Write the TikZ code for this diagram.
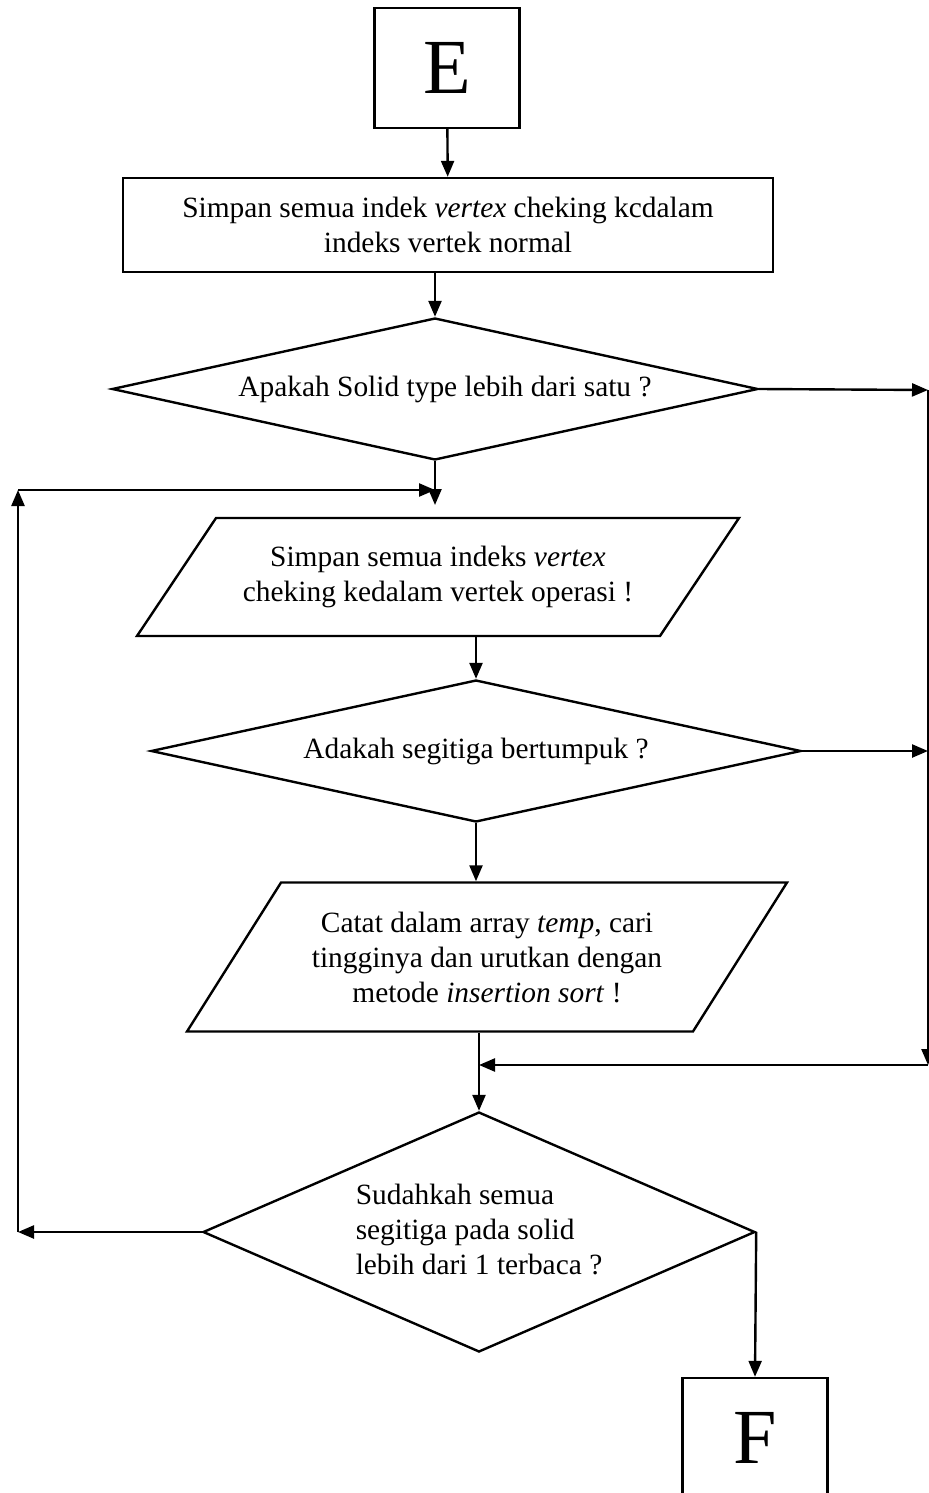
\documentclass[tikz,border=0pt]{standalone}
\usepackage{fontspec}
\setmainfont{Liberation Serif}
\usetikzlibrary{shapes.geometric,arrows.meta}

\tikzset{
  termbox/.style={draw, rectangle, minimum width=72.5pt, minimum height=60pt,
    font=\fontsize{39}{40}\selectfont},
  procbox/.style={draw, rectangle, align=center, inner sep=0pt},
  decision/.style={draw, diamond, inner sep=0pt, align=center},
  inout/.style={draw, trapezium, trapezium stretches body, align=center, inner sep=0pt},
}

\begin{document}
\begin{tikzpicture}[x=0.5pt, y=-0.5pt, >={Triangle[length=8pt,width=6.5pt]},
    line width=1.2pt, font=\fontsize{14.7}{17.5}\selectfont]
  \clip (0,0) rectangle (929,1493);

  % blocks, top to bottom
  \node[termbox] (start) at (447,68) {E};
  \node[procbox, minimum width=325pt, minimum height=47pt] (save) at (448,225)
    {Simpan semua indek \textit{vertex} cheking kcdalam\\indeks vertek normal};
  \node[decision, aspect=4.55, minimum width=323pt, minimum height=71pt] (solid) at (435,389)
    {\hspace*{10pt}Apakah Solid type lebih dari satu ?};
  \node[inout, trapezium left angle=38, trapezium right angle=142,
    minimum width=301pt, minimum height=59pt] (copyidx) at (438,577)
    {Simpan semua indeks \textit{vertex}\\cheking kedalam vertek operasi !};
  \node[decision, aspect=4.58, minimum width=325pt, minimum height=71pt] (overlap) at (476,751)
    {Adakah segitiga bertumpuk ?};
  \node[inout, trapezium left angle=44, trapezium right angle=136,
    minimum width=300pt, minimum height=74.5pt] (sort) at (487,957)
    {Catat dalam array \textit{temp}, cari\\tingginya dan urutkan dengan\\metode \textit{insertion sort} !};
  \node[decision, aspect=2.31, minimum width=276pt, minimum height=120pt] (check) at (479,1232)
    {\begin{tabular}{@{}l@{}}Sudahkah semua\\segitiga pada solid\\lebih dari 1 terbaca ?\end{tabular}};
  \node[termbox] (finish) at (755,1438) {F};

  % turning points
  \coordinate (j1) at (435,505);
  \coordinate (rt) at (928,390);
  \coordinate (rb) at (928,1065);
  \coordinate (lb) at (18,1232);
  \coordinate (lt) at (18,490);

  % main line
  \draw[->] (start) -- (save);
  \draw[->] (solid.north |- save.south) -- (solid.north);
  \draw[->] (solid.south) -- (j1);
  \draw[->] (overlap.north |- copyidx.south) -- (overlap.north);
  \draw[->] (overlap.south) -- (overlap.south |- sort.north);
  \draw[->] (check.north |- sort.south) -- (check.north);
  \draw[->] (check.east) -- (finish.north);

  % right side: skip
  \draw[->] (solid.east) -- (rt);
  \draw[->] (rt) -- (rb);
  \draw[->] (rb) -- (rb -| check.north);
  \draw[->] (overlap.east) -- (overlap.east -| rt);

  % left side: loop back
  \draw[->] (check.west) -- (lb);
  \draw[->] (lb) -- (lt);
  \draw[->] (lt) -- (lt -| solid.south);
\end{tikzpicture}
\end{document}
